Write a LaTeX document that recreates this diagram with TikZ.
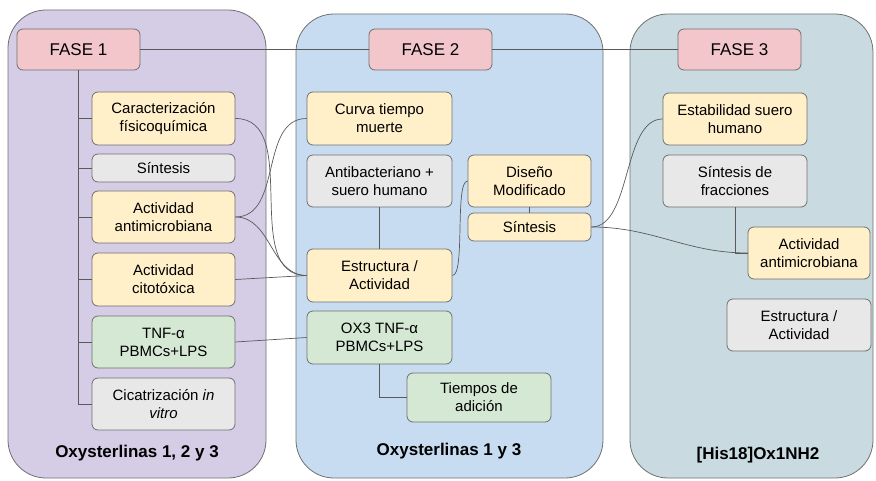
\documentclass[tikz,border=0pt]{standalone}
\usepackage{fontspec}
\setmainfont{Liberation Sans}
\definecolor{pnlA}{HTML}{D5CCE5}
\definecolor{pnlB}{HTML}{C7DCF0}
\definecolor{pnlC}{HTML}{C9DAE0}
\definecolor{pinkf}{HTML}{F2C6CA}
\definecolor{yelf}{HTML}{FFF0CA}
\definecolor{grayf}{HTML}{E8E8E8}
\definecolor{greenf}{HTML}{D5E8D4}
\definecolor{bordc}{HTML}{707070}
\definecolor{linec}{HTML}{5A5A5A}
\begin{document}
\begin{tikzpicture}[x=1pt,y=-1pt,
  panel/.style={draw=bordc, line width=0.8pt, rounded corners=38pt},
  box/.style={draw=bordc, line width=0.8pt, rounded corners=6pt, align=center, inner sep=0pt,
    font=\fontsize{15}{18}\selectfont, text=black},
  fase/.style={box, fill=pinkf, minimum width=123pt, minimum height=41pt, font=\fontsize{17}{20}\selectfont},
  wA/.style={minimum width=143pt},
  wB/.style={minimum width=145pt},
  hN/.style={minimum height=53pt},
  yel/.style={fill=yelf}, gry/.style={fill=grayf}, grn/.style={fill=greenf},
  lab/.style={font=\fontsize{17}{20}\selectfont\bfseries},
  conn/.style={draw=linec, line width=0.7pt}]
\useasboundingbox (0,0) rectangle (876,481);
% panels
\path[panel, fill=pnlA] (8,10) rectangle (266,478);
\path[panel, fill=pnlB] (296,14) rectangle (603,478);
\path[panel, fill=pnlC] (630,14) rectangle (873,478);
% phase boxes
\node[fase] (f1) at (78.5,49.5) {FASE 1};
\node[fase] (f2) at (430.5,49.5) {FASE 2};
\node[fase] (f3) at (739.5,49.5) {FASE 3};
% panel 1
\node[box, yel, wA, hN] (car) at (163.5,118.5) {Caracterización\\físicoquímica};
\node[box, gry, wA, minimum height=28pt] (sin1) at (163.5,168) {Síntesis};
\node[box, yel, wA, minimum height=52pt] (ant1) at (163.5,217) {Actividad\\antimicrobiana};
\node[box, yel, wA, hN] (cit) at (163.5,279.5) {Actividad\\citotóxica};
\node[box, grn, wA, minimum height=52pt] (tnf) at (163.5,342) {TNF-α\\PBMCs+LPS};
\node[box, gry, wA, minimum height=52pt] (cic) at (163.5,404) {Cicatrización \textit{in}\\\textit{vitro}};
\node[lab] (l1) at (137,453) {Oxysterlinas 1, 2 y 3};
% panel 2
\node[box, yel, wB, hN] (cur) at (379.5,118.5) {Curva tiempo\\muerte};
\node[box, gry, wB, minimum height=52pt] (antb) at (379.5,181) {Antibacteriano +\\suero humano};
\node[box, yel, minimum width=123pt, minimum height=52pt] (dis) at (529.5,181) {Diseño\\Modificado};
\node[box, yel, minimum width=123pt, minimum height=28pt] (sin2) at (529.5,227) {Síntesis};
\node[box, yel, wB, hN] (est) at (379.5,275.5) {Estructura /\\Actividad};
\node[box, grn, wB, hN] (ox3) at (379.5,337.5) {OX3 TNF-α\\PBMCs+LPS};
\node[box, grn, minimum width=144pt, minimum height=49pt] (tie) at (479,397.5) {Tiempos de\\adición};
\node[lab] (l2) at (449,451) {Oxysterlinas 1 y 3};
% panel 3
\node[box, yel, minimum width=144pt, minimum height=52pt] (esta) at (735,119) {Estabilidad suero\\humano};
\node[box, gry, minimum width=144pt, minimum height=52pt] (sfr) at (735,181) {Síntesis de\\fracciones};
\node[box, yel, minimum width=122pt, minimum height=52pt] (act3) at (809,253) {Actividad\\antimicrobiana};
\node[box, gry, minimum width=144pt, minimum height=52pt] (est3) at (799,325) {Estructura /\\Actividad};
\node[lab] (l3) at (758,455) {[His18]Ox1NH2};
% connectors
\draw[conn] (f1) -- (f2);
\draw[conn] (f2) -- (f3);
\foreach \b in {car,sin1,ant1,cit,tnf,cic}{
  \draw[conn] (f1.south) |- (\b.west);
}
\draw[conn] (car.east) to[out=0,in=180] (est.west);
\draw[conn] (ant1.east) to[out=0,in=180] (cur.west);
\draw[conn] (ant1.east) to[out=0,in=180] (est.west);
\draw[conn] (cit.east) -- (est.west);
\draw[conn] (tnf.east) -- (ox3.west);
\draw[conn] (antb.south) -- (est.north);
\draw[conn] (dis.south) -- (sin2.north);
\draw[conn] (ox3.south) |- (tie.west);
\draw[conn] (est.east) to[out=0,in=180,looseness=0.35] (dis.west);
\draw[conn] (sin2.east) to[out=0,in=180,looseness=0.8] (esta.west);
\draw[conn] (sin2.east) to[out=0,in=180] (act3.west);
\draw[conn] (sfr.south) |- (act3.west);
\end{tikzpicture}
\end{document}
